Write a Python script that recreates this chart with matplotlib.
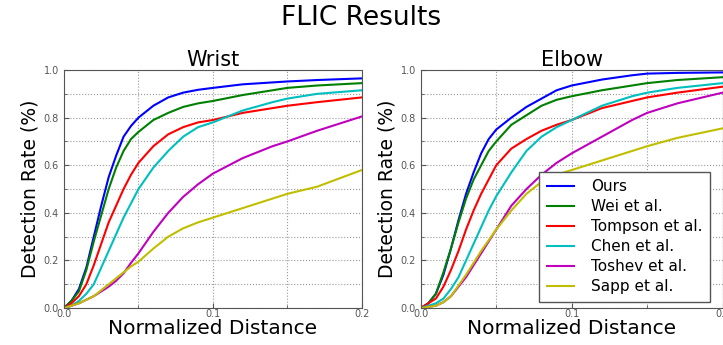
import numpy as np
import matplotlib.pyplot as plt
from matplotlib.ticker import MultipleLocator

# Data
dist = [0.0, 0.005, 0.01, 0.015, 0.02, 0.025, 0.03, 0.035, 0.04, 0.045, 0.05,
        0.06, 0.07, 0.08, 0.09, 0.1, 0.12, 0.14, 0.15, 0.17, 0.2]

methods = ["Ours", "Wei et al.", "Tompson et al.", "Chen et al.", "Toshev et al.", "Sapp et al."]
colors = ["b", "g", "r", "c", "m", "y"]

wrist_ours = [0.0, 0.03, 0.08, 0.17, 0.30, 0.43, 0.55, 0.64, 0.72, 0.765, 0.80,
              0.85, 0.885, 0.905, 0.917, 0.925, 0.94, 0.948, 0.952, 0.958, 0.965]
wrist_wei = [0.0, 0.03, 0.07, 0.16, 0.28, 0.39, 0.50, 0.59, 0.66, 0.71, 0.74,
             0.79, 0.82, 0.845, 0.86, 0.87, 0.895, 0.915, 0.925, 0.935, 0.945]
wrist_tompson = [0.0, 0.02, 0.05, 0.10, 0.18, 0.27, 0.36, 0.43, 0.50, 0.56, 0.61,
                 0.68, 0.73, 0.76, 0.78, 0.79, 0.82, 0.84, 0.85, 0.865, 0.885]
wrist_chen = [0.0, 0.01, 0.03, 0.06, 0.10, 0.17, 0.24, 0.31, 0.38, 0.44, 0.50,
              0.59, 0.66, 0.72, 0.76, 0.78, 0.83, 0.865, 0.88, 0.9, 0.915]
wrist_toshev = [0.0, 0.01, 0.02, 0.035, 0.05, 0.07, 0.09, 0.115, 0.146, 0.19, 0.23,
                0.32, 0.40, 0.467, 0.52, 0.565, 0.63, 0.68, 0.70, 0.745, 0.805]
wrist_sapp = [0.0, 0.01, 0.02, 0.035, 0.05, 0.075, 0.10, 0.125, 0.15, 0.175, 0.195,
              0.25, 0.30, 0.335, 0.36, 0.38, 0.42, 0.46, 0.48, 0.51, 0.58]

elbow_ours = [0.0, 0.02, 0.06, 0.14, 0.25, 0.37, 0.48, 0.57, 0.65, 0.71, 0.75,
              0.80, 0.845, 0.88, 0.915, 0.935, 0.96, 0.978, 0.985, 0.988, 0.99]
elbow_wei = [0.0, 0.02, 0.06, 0.15, 0.25, 0.36, 0.46, 0.54, 0.60, 0.66, 0.70,
             0.77, 0.81, 0.85, 0.875, 0.89, 0.915, 0.935, 0.945, 0.958, 0.97]
elbow_tompson = [0.0, 0.02, 0.04, 0.09, 0.16, 0.24, 0.33, 0.41, 0.48, 0.54, 0.60,
                 0.67, 0.71, 0.745, 0.77, 0.79, 0.84, 0.87, 0.885, 0.905, 0.93]
elbow_chen = [0.0, 0.01, 0.02, 0.04, 0.08, 0.13, 0.20, 0.27, 0.34, 0.41, 0.47,
              0.57, 0.66, 0.72, 0.76, 0.79, 0.85, 0.89, 0.905, 0.925, 0.945]
elbow_toshev = [0.0, 0.005, 0.01, 0.025, 0.05, 0.09, 0.13, 0.18, 0.23, 0.28, 0.33,
                0.43, 0.50, 0.56, 0.61, 0.65, 0.72, 0.79, 0.82, 0.86, 0.905]
elbow_sapp = [0.0, 0.005, 0.01, 0.025, 0.05, 0.095, 0.14, 0.19, 0.24, 0.285, 0.33,
              0.41, 0.48, 0.53, 0.56, 0.58, 0.62, 0.66, 0.68, 0.715, 0.755]

wrist = [wrist_ours, wrist_wei, wrist_tompson, wrist_chen, wrist_toshev, wrist_sapp]
elbow = [elbow_ours, elbow_wei, elbow_tompson, elbow_chen, elbow_toshev, elbow_sapp]

fig = plt.figure(figsize=(7.23, 3.45), dpi=100)
fig.suptitle("FLIC Results", fontsize=19, y=0.985)

ax1 = fig.add_axes([0.0885, 0.107, 0.412, 0.69])
ax2 = fig.add_axes([0.582, 0.107, 0.4175, 0.69])

for ax, title, curves in [(ax1, "Wrist", wrist), (ax2, "Elbow", elbow)]:
    for name, c, vals in zip(methods, colors, curves):
        ax.plot(dist, vals, color=c, lw=1.5, label=name)
    ax.set_xlim(0, 0.2)
    ax.set_ylim(0, 1.0)
    ax.set_title(title, fontsize=15, pad=2)
    ax.set_xlabel("Normalized Distance", fontsize=14.5, labelpad=0)
    ax.set_ylabel("Detection Rate (%)", fontsize=13.5, labelpad=3)
    ax.xaxis.set_minor_locator(MultipleLocator(0.05))
    ax.yaxis.set_minor_locator(MultipleLocator(0.1))
    ax.set_xticks([0.0, 0.1, 0.2], ["0.0", "0.1", "0.2"])
    ax.set_yticks([0.0, 0.2, 0.4, 0.6, 0.8, 1.0], ["0.0", "0.2", "0.4", "0.6", "0.8", "1.0"])
    ax.tick_params(which="both", direction="in", labelsize=7, labelcolor="#555555", color="#555555")
    ax.tick_params(axis="x", pad=1)
    ax.grid(True, which="both", linestyle=":", color="#999999", lw=0.8)
    for s in ax.spines.values():
        s.set_color("#555555")

leg = ax2.legend(loc="lower right", bbox_to_anchor=(0.958, 0.025), borderaxespad=0,
                 fontsize=11, fancybox=False, framealpha=1, handlelength=1.8,
                 handletextpad=1.1, labelspacing=0.33, borderpad=0.5)
leg.get_frame().set_edgecolor("#555555")

fig.savefig("out.png", dpi=100)
